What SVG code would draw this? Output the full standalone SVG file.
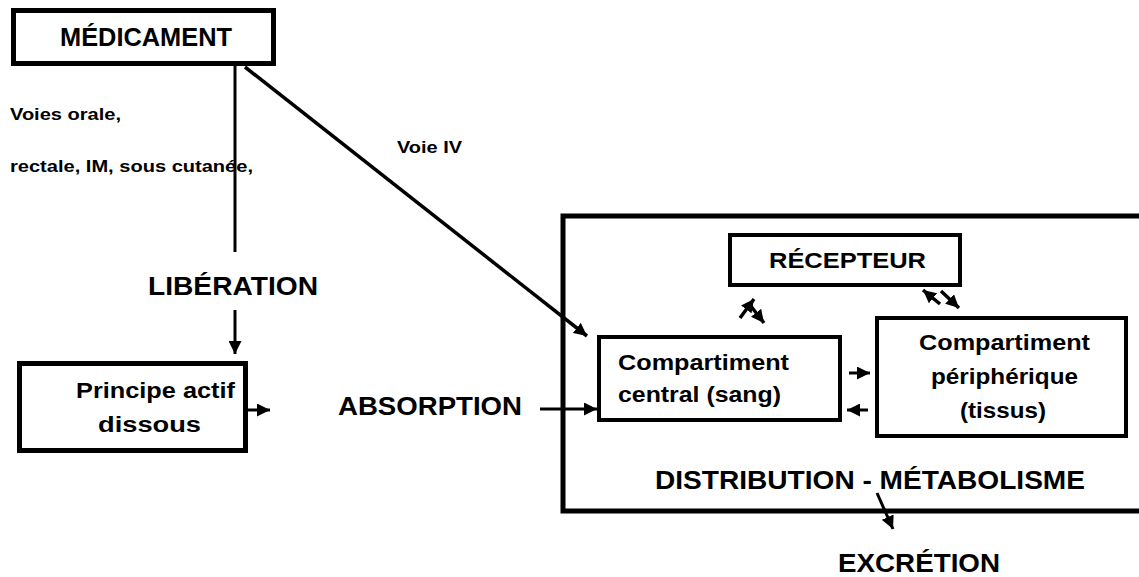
<svg xmlns="http://www.w3.org/2000/svg" width="1139" height="577" viewBox="0 0 1139 577">
<style>
text{font-family:"Liberation Sans",Arial,sans-serif;font-weight:bold;fill:#000}
.box{fill:#fff;stroke:#000;stroke-width:5}
.box4{fill:#fff;stroke:#000;stroke-width:4}
.ln{stroke:#000;stroke-width:3;fill:none}
.sh{stroke:#000;stroke-width:3.5;fill:none}
.big{font-size:25px}
.mid{font-size:22px}
.sm{font-size:17px}
</style>
<defs>
<marker id="ah" viewBox="0 0 12 12" refX="12" refY="6" markerWidth="13" markerHeight="13" markerUnits="userSpaceOnUse" orient="auto">
<path d="M0,0 L12,6 L0,12 z" fill="#000"/>
</marker>
</defs>
<rect width="1139" height="577" fill="#fff"/>
<g id="distribution">
<path d="M1139,216 H563 V511 H1139" fill="none" stroke="#000" stroke-width="5"/>
<text class="big" x="655" y="489" textLength="430" lengthAdjust="spacingAndGlyphs">DISTRIBUTION - MÉTABOLISME</text>
</g>
<g id="medicament">
<rect class="box" x="13.5" y="10.5" width="260" height="53"/>
<text class="big" x="60" y="46" textLength="172" lengthAdjust="spacingAndGlyphs">MÉDICAMENT</text>
</g>
<g id="principe">
<rect class="box" x="19.5" y="363.5" width="226" height="87"/>
<text class="mid" x="76" y="398" textLength="159" lengthAdjust="spacingAndGlyphs">Principe actif</text>
<text class="mid" x="98" y="432" textLength="103" lengthAdjust="spacingAndGlyphs">dissous</text>
</g>
<g id="recepteur">
<rect class="box4" x="730" y="235" width="230" height="50"/>
<text class="mid" x="769" y="268" textLength="157" lengthAdjust="spacingAndGlyphs">RÉCEPTEUR</text>
</g>
<g id="central">
<rect class="box4" x="599" y="337" width="241" height="83"/>
<text class="mid" x="618" y="370" textLength="171" lengthAdjust="spacingAndGlyphs">Compartiment</text>
<text class="mid" x="618" y="402" textLength="163" lengthAdjust="spacingAndGlyphs">central (sang)</text>
</g>
<g id="peripherique">
<rect class="box4" x="877" y="318" width="249" height="118"/>
<text class="mid" x="919" y="350" textLength="171" lengthAdjust="spacingAndGlyphs">Compartiment</text>
<text class="mid" x="931" y="384" textLength="147" lengthAdjust="spacingAndGlyphs">périphérique</text>
<text class="mid" x="960" y="418" textLength="86" lengthAdjust="spacingAndGlyphs">(tissus)</text>
</g>
<g id="labels">
<text class="sm" x="10" y="120" textLength="111" lengthAdjust="spacingAndGlyphs">Voies orale,</text>
<text class="sm" x="10" y="172" textLength="243" lengthAdjust="spacingAndGlyphs">rectale, IM, sous cutanée,</text>
<text class="sm" x="397" y="153" textLength="65" lengthAdjust="spacingAndGlyphs">Voie IV</text>
<text class="big" x="148" y="295" textLength="170" lengthAdjust="spacingAndGlyphs">LIBÉRATION</text>
<text class="big" x="338" y="415" textLength="184" lengthAdjust="spacingAndGlyphs">ABSORPTION</text>
<text class="big" x="838" y="572" textLength="162" lengthAdjust="spacingAndGlyphs">EXCRÉTION</text>
</g>
<g id="connectors">
<line class="ln" x1="235" y1="66" x2="235" y2="252"/>
<line class="ln" x1="235" y1="310" x2="235" y2="354" marker-end="url(#ah)"/>
<line class="ln" x1="245" y1="67" x2="587" y2="336" marker-end="url(#ah)" style="stroke-width:3.5"/>
<line class="ln" x1="248" y1="410" x2="270" y2="410" marker-end="url(#ah)"/>
<line class="ln" x1="540" y1="409" x2="597" y2="409" marker-end="url(#ah)"/>
<line class="ln" x1="849" y1="373" x2="870" y2="373" marker-end="url(#ah)"/>
<line class="ln" x1="868" y1="410" x2="847" y2="410" marker-end="url(#ah)"/>
<line class="ln" x1="877" y1="493" x2="893" y2="529" marker-end="url(#ah)"/>
<line class="sh" x1="740" y1="318" x2="754" y2="299" marker-end="url(#ah)"/>
<line class="sh" x1="750" y1="305" x2="764" y2="323" marker-end="url(#ah)"/>
<line class="sh" x1="940" y1="304" x2="923" y2="290" marker-end="url(#ah)"/>
<line class="sh" x1="941" y1="291" x2="959" y2="308" marker-end="url(#ah)"/>
</g>
</svg>
